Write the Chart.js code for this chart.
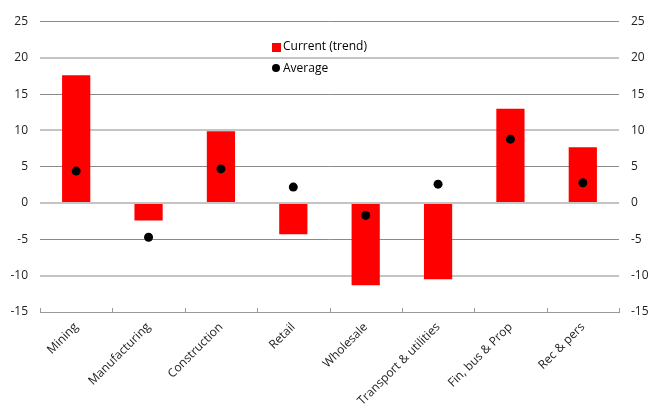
<!DOCTYPE html>
<html>
<head>
<meta charset="utf-8">
<script src="https://cdn.jsdelivr.net/npm/chart.js@4/dist/chart.umd.min.js"></script>
<style>
  html, body { margin: 0; padding: 0; background: #ffffff; }
  #wrap { width: 649px; height: 410px; }
</style>
</head>
<body>
<div id="wrap"><canvas id="sectorChart" width="649" height="410"></canvas></div>
<script>
// Sector values
const sectors = ["Mining", "Manufacturing", "Construction", "Retail", "Wholesale",
  "Transport & utilities", "Fin, bus & Prop", "Rec & pers"];
const currentTrend = [17.6, -2.4, 9.9, -4.3, -11.3, -10.5, 13.0, 7.7];
const average = [4.4, -4.7, 4.7, 2.2, -1.7, 2.6, 8.8, 2.8];
const yTicks = [-15, -10, -5, 0, 5, 10, 15, 20, 25];

const FONT = "'Open Sans', 'DejaVu Sans', sans-serif";

// legend drawn inside the plot area, like the original
const insideLegend = {
  id: "insideLegend",
  afterDraw(chart) {
    const c = chart.ctx;
    c.save();
    c.font = "12px " + FONT;
    c.textBaseline = "middle";
    c.fillStyle = "#ff0000";
    c.fillRect(272, 43, 9, 9);
    c.fillStyle = "#000";
    c.fillText("Current (trend)", 283, 47);
    c.beginPath();
    c.arc(276, 68, 4, 0, Math.PI * 2);
    c.fill();
    c.fillText("Average", 283, 69);
    c.restore();
  }
};

// small category tick marks pointing up from the bottom axis
const innerTicks = {
  id: "innerTicks",
  afterDatasetsDraw(chart) {
    const c = chart.ctx;
    const area = chart.chartArea;
    const step = (area.right - area.left) / sectors.length;
    c.save();
    c.strokeStyle = "#999";
    c.lineWidth = 1;
    c.beginPath();
    for (let i = 0; i <= sectors.length; i++) {
      const x = Math.round(area.left + i * step) + 0.5;
      c.moveTo(x, area.bottom - 4);
      c.lineTo(x, area.bottom);
    }
    c.stroke();
    c.restore();
  }
};

new Chart(document.getElementById("sectorChart"), {
  data: {
    labels: sectors,
    datasets: [
      {
        type: "line",
        label: "Average",
        data: average,
        showLine: false,
        pointRadius: 4.5,
        pointHoverRadius: 4.5,
        pointBackgroundColor: "#000",
        pointBorderWidth: 0,
        order: 0,
      },
      {
        type: "bar",
        label: "Current (trend)",
        data: currentTrend,
        backgroundColor: "#ff0000",
        barPercentage: 0.39,
        categoryPercentage: 1,
        order: 1,
      },
    ],
  },
  options: {
    responsive: false,
    animation: false,
    layout: { padding: { top: 21.5, left: 0, right: 0, bottom: 0 } },
    plugins: {
      legend: { display: false },
      tooltip: { enabled: false },
    },
    scales: {
      x: {
        grid: {
          offset: true,
          drawOnChartArea: false,
          drawTicks: false,
        },
        border: { display: true, color: "#999" },
        ticks: {
          minRotation: 45,
          maxRotation: 45,
          autoSkip: false,
          padding: 8,
          color: "#222",
          font: { family: FONT, size: 12 },
        },
        afterFit(axis) { axis.height = 98; },
      },
      y: {
        position: "left",
        min: -15,
        max: 25,
        afterBuildTicks(axis) { axis.ticks = yTicks.map(v => ({ value: v })); },
        grid: {
          drawTicks: false,
          color: (ctx) => ctx.tick.value === -15 ? "#999" : (ctx.tick.value % 10 === 0 ? "#c4c4c4" : "#8a8a8a"),
          lineWidth: (ctx) => ctx.tick.value % 10 === 0 && ctx.tick.value !== -15 ? 2 : 1,
        },
        border: { display: false },
        ticks: {
          padding: 12,
          color: "#222",
          font: { family: FONT, size: 12 },
        },
        afterFit(axis) { axis.width = 40; },
      },
      y2: {
        position: "right",
        min: -15,
        max: 25,
        afterBuildTicks(axis) { axis.ticks = yTicks.map(v => ({ value: v })); },
        grid: { display: false, drawTicks: false },
        border: { display: false },
        ticks: {
          padding: 12,
          color: "#222",
          font: { family: FONT, size: 12 },
        },
        afterFit(axis) { axis.width = 30; },
      },
    },
  },
  plugins: [insideLegend, innerTicks],
});
</script>
</body>
</html>
